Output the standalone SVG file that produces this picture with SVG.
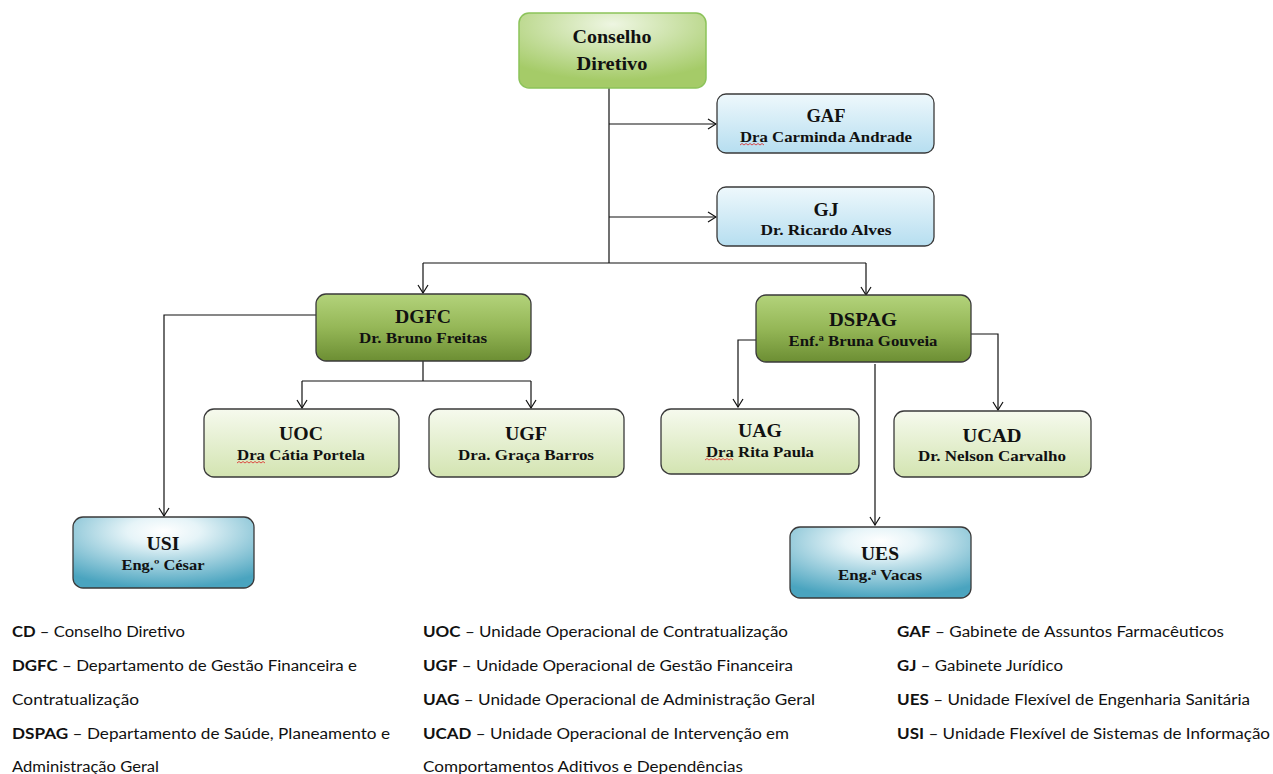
<svg xmlns="http://www.w3.org/2000/svg" width="1273" height="774" viewBox="0 0 1273 774">
<style>
.t{font-family:"Liberation Serif","Times New Roman",serif;font-weight:bold;fill:#111;text-anchor:middle}
.h{font-size:18px}
.s{font-size:15px}
.bx{stroke:#3a3a3a;stroke-width:1.3}
.c{fill:none;stroke:#111;stroke-width:1.2}
.lg{font-family:"Lato","Liberation Sans",sans-serif;font-size:14.5px;fill:#111}
.lg tspan.b{font-weight:bold}
.sq{fill:none;stroke:#d22;stroke-width:0.8}
</style>
<defs>
<radialGradient id="gCD" cx="0.5" cy="0.15" r="0.75">
<stop offset="0" stop-color="#eef6e2"/><stop offset="1" stop-color="#a5cb68"/>
</radialGradient>
<linearGradient id="gBlue" x1="0" y1="0" x2="0" y2="1">
<stop offset="0" stop-color="#eef8fc"/><stop offset="1" stop-color="#b6def0"/>
</linearGradient>
<linearGradient id="gDark" x1="0" y1="0" x2="0" y2="1">
<stop offset="0" stop-color="#b3d37b"/><stop offset="0.5" stop-color="#95b757"/><stop offset="1" stop-color="#6c8e33"/>
</linearGradient>
<linearGradient id="gLight" x1="0" y1="0" x2="0" y2="1">
<stop offset="0" stop-color="#f6faee"/><stop offset="1" stop-color="#d3e4b1"/>
</linearGradient>
<radialGradient id="gTeal" cx="0.5" cy="0.2" r="0.8">
<stop offset="0" stop-color="#ffffff"/><stop offset="0.25" stop-color="#e6f4f8"/><stop offset="1" stop-color="#4aa4bf"/>
</radialGradient>
<marker id="ar" markerWidth="10" markerHeight="12" refX="9" refY="6" orient="auto" markerUnits="userSpaceOnUse">
<path d="M1,1 L9,6 L1,11" fill="none" stroke="#111" stroke-width="1.2"/>
</marker>
</defs>

<g id="connectors">
<path class="c" d="M609,88 V263"/>
<path class="c" d="M609,124 H716" marker-end="url(#ar)"/>
<path class="c" d="M609,217 H716" marker-end="url(#ar)"/>
<path class="c" d="M423,263 H866"/>
<path class="c" d="M423,263 V293" marker-end="url(#ar)"/>
<path class="c" d="M866,263 V295" marker-end="url(#ar)"/>
<path class="c" d="M316,315 H164 V516" marker-end="url(#ar)"/>
<path class="c" d="M423,361 V381"/>
<path class="c" d="M302,381 H531"/>
<path class="c" d="M302,381 V408" marker-end="url(#ar)"/>
<path class="c" d="M531,381 V408" marker-end="url(#ar)"/>
<path class="c" d="M756,340 H738 V407" marker-end="url(#ar)"/>
<path class="c" d="M971,334 H998 V410" marker-end="url(#ar)"/>
<path class="c" d="M875,364 V525" marker-end="url(#ar)"/>
</g>

<g id="CD">
<rect x="519" y="13" width="187" height="75" rx="10" fill="url(#gCD)" stroke="#8cc35a" stroke-width="1.5"/>
<text class="t h" x="612" y="43" textLength="79" lengthAdjust="spacingAndGlyphs">Conselho</text>
<text class="t h" x="612" y="70" textLength="71" lengthAdjust="spacingAndGlyphs">Diretivo</text>
</g>

<g id="GAF">
<rect class="bx" x="717" y="94" width="217" height="59" rx="9" fill="url(#gBlue)"/>
<text class="t h" x="826" y="122" textLength="39" lengthAdjust="spacingAndGlyphs">GAF</text>
<text class="t s" x="826" y="142" textLength="172" lengthAdjust="spacingAndGlyphs">Dra Carminda Andrade</text>
<path class="sq" d="M740,145 l2,-1.5 2,1.5 2,-1.5 2,1.5 2,-1.5 2,1.5 2,-1.5 2,1.5 2,-1.5 2,1.5 2,-1.5 2,1.5"/>
</g>

<g id="GJ">
<rect class="bx" x="717" y="187" width="217" height="59" rx="9" fill="url(#gBlue)"/>
<text class="t h" x="826" y="216" textLength="25" lengthAdjust="spacingAndGlyphs">GJ</text>
<text class="t s" x="826" y="235" textLength="131" lengthAdjust="spacingAndGlyphs">Dr. Ricardo Alves</text>
</g>

<g id="DGFC">
<rect class="bx" x="316" y="294" width="215" height="67" rx="10" fill="url(#gDark)"/>
<text class="t h" x="423" y="323" textLength="56" lengthAdjust="spacingAndGlyphs">DGFC</text>
<text class="t s" x="423" y="343" textLength="128" lengthAdjust="spacingAndGlyphs">Dr. Bruno Freitas</text>
</g>

<g id="UOC">
<rect class="bx" x="204" y="409" width="195" height="68" rx="10" fill="url(#gLight)"/>
<text class="t h" x="301" y="440" textLength="44" lengthAdjust="spacingAndGlyphs">UOC</text>
<text class="t s" x="301" y="460" textLength="128" lengthAdjust="spacingAndGlyphs">Dra Cátia Portela</text>
<path class="sq" d="M237,463 l2,-1.5 2,1.5 2,-1.5 2,1.5 2,-1.5 2,1.5 2,-1.5 2,1.5 2,-1.5 2,1.5 2,-1.5 2,1.5 2,-1.5 2,1.5"/>
</g>

<g id="UGF">
<rect class="bx" x="429" y="409" width="195" height="68" rx="10" fill="url(#gLight)"/>
<text class="t h" x="526" y="440" textLength="42" lengthAdjust="spacingAndGlyphs">UGF</text>
<text class="t s" x="526" y="460" textLength="136" lengthAdjust="spacingAndGlyphs">Dra. Graça Barros</text>
</g>

<g id="USI">
<rect class="bx" x="73" y="517" width="181" height="71" rx="10" fill="url(#gTeal)"/>
<text class="t h" x="163" y="550" textLength="33" lengthAdjust="spacingAndGlyphs">USI</text>
<text class="t s" x="163" y="570" textLength="83" lengthAdjust="spacingAndGlyphs">Eng.º César</text>
</g>

<g id="DSPAG">
<rect class="bx" x="756" y="295" width="215" height="67" rx="10" fill="url(#gDark)"/>
<text class="t h" x="863" y="326" textLength="68" lengthAdjust="spacingAndGlyphs">DSPAG</text>
<text class="t s" x="863" y="346" textLength="149" lengthAdjust="spacingAndGlyphs">Enf.ª Bruna Gouveia</text>
</g>

<g id="UAG">
<rect class="bx" x="661" y="409" width="198" height="65" rx="10" fill="url(#gLight)"/>
<text class="t h" x="760" y="437" textLength="44" lengthAdjust="spacingAndGlyphs">UAG</text>
<text class="t s" x="760" y="457" textLength="108" lengthAdjust="spacingAndGlyphs">Dra Rita Paula</text>
<path class="sq" d="M705,460 l2,-1.5 2,1.5 2,-1.5 2,1.5 2,-1.5 2,1.5 2,-1.5 2,1.5 2,-1.5 2,1.5 2,-1.5 2,1.5 2,-1.5 2,1.5"/>
</g>

<g id="UCAD">
<rect class="bx" x="894" y="411" width="197" height="66" rx="10" fill="url(#gLight)"/>
<text class="t h" x="992" y="442" textLength="59" lengthAdjust="spacingAndGlyphs">UCAD</text>
<text class="t s" x="992" y="461" textLength="148" lengthAdjust="spacingAndGlyphs">Dr. Nelson Carvalho</text>
</g>

<g id="UES">
<rect class="bx" x="790" y="527" width="181" height="71" rx="10" fill="url(#gTeal)"/>
<text class="t h" x="880" y="560" textLength="38" lengthAdjust="spacingAndGlyphs">UES</text>
<text class="t s" x="880" y="580" textLength="84" lengthAdjust="spacingAndGlyphs">Eng.ª Vacas</text>
</g>

<g id="legend">
<text class="lg" x="12" y="637" textLength="173" lengthAdjust="spacingAndGlyphs"><tspan class="b">CD</tspan> – Conselho Diretivo</text>
<text class="lg" x="12" y="671" textLength="345" lengthAdjust="spacingAndGlyphs"><tspan class="b">DGFC</tspan> – Departamento de Gestão Financeira e</text>
<text class="lg" x="12" y="705" textLength="127" lengthAdjust="spacingAndGlyphs">Contratualização</text>
<text class="lg" x="12" y="739" textLength="378" lengthAdjust="spacingAndGlyphs"><tspan class="b">DSPAG</tspan> – Departamento de Saúde, Planeamento e</text>
<text class="lg" x="12" y="772" textLength="147" lengthAdjust="spacingAndGlyphs">Administração Geral</text>

<text class="lg" x="423" y="637" textLength="365" lengthAdjust="spacingAndGlyphs"><tspan class="b">UOC</tspan> – Unidade Operacional de Contratualização</text>
<text class="lg" x="423" y="671" textLength="370" lengthAdjust="spacingAndGlyphs"><tspan class="b">UGF</tspan> – Unidade Operacional de Gestão Financeira</text>
<text class="lg" x="423" y="705" textLength="392" lengthAdjust="spacingAndGlyphs"><tspan class="b">UAG</tspan> – Unidade Operacional de Administração Geral</text>
<text class="lg" x="423" y="739" textLength="366" lengthAdjust="spacingAndGlyphs"><tspan class="b">UCAD</tspan> – Unidade Operacional de Intervenção em</text>
<text class="lg" x="423" y="772" textLength="320" lengthAdjust="spacingAndGlyphs">Comportamentos Aditivos e Dependências</text>

<text class="lg" x="897" y="637" textLength="327" lengthAdjust="spacingAndGlyphs"><tspan class="b">GAF</tspan> – Gabinete de Assuntos Farmacêuticos</text>
<text class="lg" x="897" y="671" textLength="166" lengthAdjust="spacingAndGlyphs"><tspan class="b">GJ</tspan> – Gabinete Jurídico</text>
<text class="lg" x="897" y="705" textLength="353" lengthAdjust="spacingAndGlyphs"><tspan class="b">UES</tspan> – Unidade Flexível de Engenharia Sanitária</text>
<text class="lg" x="897" y="739" textLength="373" lengthAdjust="spacingAndGlyphs"><tspan class="b">USI</tspan> – Unidade Flexível de Sistemas de Informação</text>
</g>
</svg>
